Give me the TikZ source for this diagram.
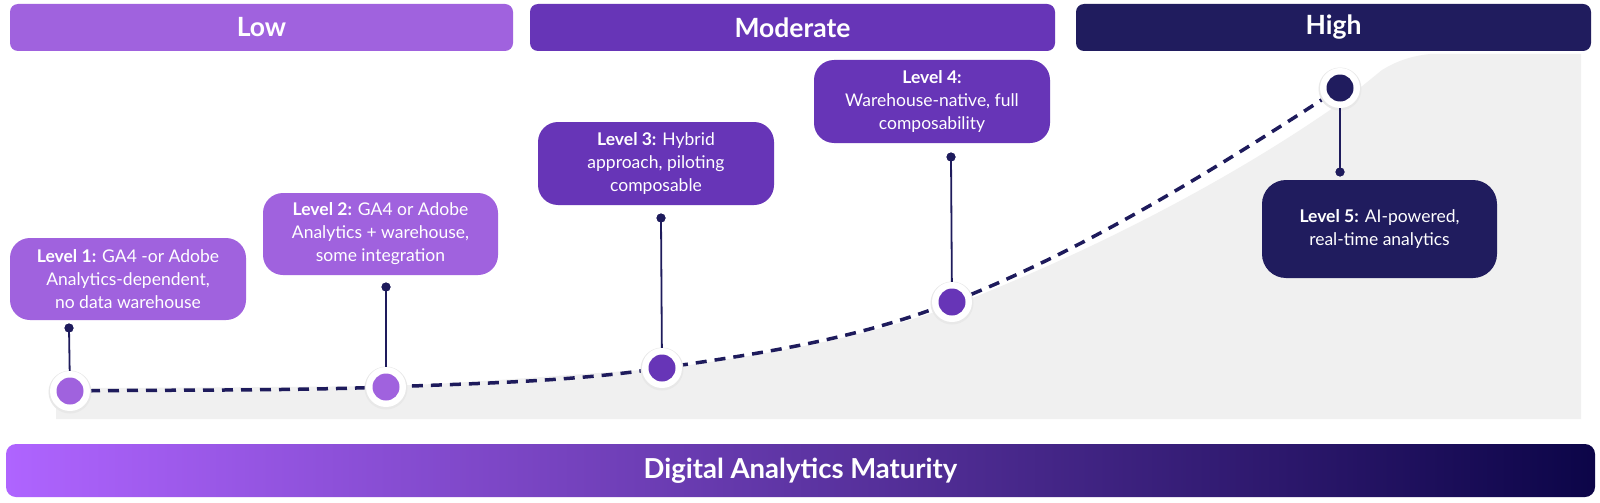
\documentclass[tikz,border=0pt]{standalone}
\usepackage{fontspec}
\setmainfont{Lato}
\definecolor{lowc}{HTML}{A062DE}
\definecolor{modc}{HTML}{6735B7}
\definecolor{highc}{HTML}{201C5E}
\definecolor{navy}{HTML}{1E1B5C}
\definecolor{grayarea}{HTML}{F0F0F0}
\definecolor{barl}{HTML}{AF64FF}
\definecolor{barr}{HTML}{0C0548}
\tikzset{
  hdr/.style={rounded corners=8pt, text=white, font=\fontsize{26.5}{30}\selectfont\bfseries, inner sep=0pt},
  lvlbox/.style={rounded corners=20pt, text=white, align=center, inner sep=0pt, minimum width=236, minimum height=82, font=\fontsize{17.5}{23}\selectfont},
  pin/.style={circle, fill=navy, minimum size=9, inner sep=0pt},
  conn/.style={draw=navy, line width=1.8pt},
  halo/.style={circle, fill=white, minimum size=40, inner sep=0pt},
  core/.style={circle, minimum size=27, inner sep=0pt},
  trend/.style={draw=navy, line width=3.5pt, dash pattern=on 11pt off 8pt}
}
\begin{document}
\begin{tikzpicture}[x=1pt,y=-1pt]
\useasboundingbox[fill=white] (0,0) rectangle (1600,503);
% gray area
\fill[grayarea] (56,419) -- (56,388) .. controls (160,388) and (280,387) .. (386,386)
  .. controls (478,383) and (570,374) .. (662,369)
  .. controls (759,355) and (855,341) .. (952,306)
  .. controls (1081,256) and (1230,182) .. (1350,96)
  -- (1382,70) .. controls (1395,62) and (1410,56) .. (1430,54)
  -- (1581,54) -- (1581,419) -- cycle;
% headers
\node[hdr, fill=lowc, minimum width=503, minimum height=47] (hlow) at (261.5,27.5) {Low};
\node[hdr, fill=modc, minimum width=525, minimum height=47] (hmod) at (792.5,27.5) {Moderate};
\node[hdr, fill=highc, minimum width=515, minimum height=47] (hhigh) at (1333.5,27.5) {High};
% marker positions
\coordinate (p1) at (70,391);
\coordinate (p2) at (386,387);
\coordinate (p3) at (662,368);
\coordinate (p4) at (952,302);
\coordinate (p5) at (1340,88);
% trend line
\draw[trend] (p1) .. controls +(105,-1.4) and +(-105,4) .. (p2)
  .. controls +(92,-3.7) and +(-92,13.8) .. (p3)
  .. controls +(97,-14.5) and +(-97,38) .. (p4)
  .. controls +(129,-50) and +(-129,84) .. (p5);
% markers
\foreach \i in {1,...,5} {\fill[black!9] (p\i) ++(0,1) circle (21.5);}
\node[halo] (m1) at (p1) {};
\node[halo] (m2) at (p2) {};
\node[halo] (m3) at (p3) {};
\node[halo] (m4) at (p4) {};
\node[halo] (m5) at (p5) {};
\node[core, fill=lowc] (c1) at (p1) {};
\node[core, fill=lowc] (c2) at (p2) {};
\node[core, fill=modc] (c3) at (p3) {};
\node[core, fill=modc] (c4) at (p4) {};
\node[core, fill=highc] (c5) at (p5) {};
% boxes
\node[lvlbox, fill=lowc] (b1) at (128,279) {\textbf{Level 1:} GA4 -or Adobe\\Analytics-dependent,\\no data warehouse};
\node[lvlbox, fill=lowc, minimum width=235] (b2) at (380.5,234) {\textbf{Level 2:} GA4 or Adobe\\Analytics + warehouse,\\some integration};
\node[lvlbox, fill=modc, minimum height=83] (b3) at (656,163.5) {\textbf{Level 3:} Hybrid\\approach, piloting\\composable};
\node[lvlbox, fill=modc, minimum height=83] (b4) at (932,101.5) {\textbf{Level 4:}\\Warehouse-native, full\\composability};
\node[lvlbox, fill=highc, minimum width=235, minimum height=98, rounded corners=24pt] (b5) at (1379.5,229) {\textbf{Level 5:} AI-powered,\\real-time analytics};
% pins and connectors
\node[pin] (d1) at (69,328) {};
\node[pin] (d2) at (386,287) {};
\node[pin] (d3) at (661,218) {};
\node[pin] (d4) at (951,157) {};
\node[pin] (d5) at (1340,172) {};
\draw[conn] (d1.center) -- (m1);
\draw[conn] (d2.center) -- (m2);
\draw[conn] (d3.center) -- (m3);
\draw[conn] (d4.center) -- (m4);
\draw[conn] (d5.center) -- (m5);
\node[pin] at (d1) {};
\node[pin] at (d2) {};
\node[pin] at (d3) {};
\node[pin] at (d4) {};
\node[pin] at (d5) {};
% bottom bar
\node[rounded corners=10pt, left color=barl, right color=barr, minimum width=1589, minimum height=53, inner sep=0pt, text=white, font=\fontsize{27.5}{30}\selectfont\bfseries] (bar) at (800.5,470.5) {Digital Analytics Maturity};
\end{tikzpicture}
\end{document}
